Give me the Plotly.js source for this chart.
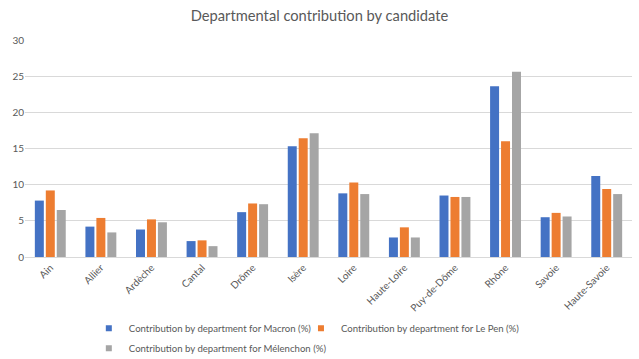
<!DOCTYPE html>
<html><head><meta charset="utf-8">
<script src="https://cdn.plot.ly/plotly-3.0.1.min.js"></script>
<style>html,body{margin:0;padding:0;background:#fff}</style>
</head><body><div id="chart" style="width:639px;height:359px"></div>
<script>
const departments = ["Ain","Allier","Ardèche","Cantal","Drôme","Isère","Loire","Haute-Loire","Puy-de-Dôme","Rhône","Savoie","Haute-Savoie"];
const macron    = [7.8, 4.2, 3.8, 2.2, 6.2, 15.3, 8.8, 2.7, 8.5, 23.6, 5.5, 11.2];
const lepen     = [9.2, 5.4, 5.2, 2.3, 7.4, 16.4, 10.3, 4.1, 8.3, 16.0, 6.1, 9.4];
const melenchon = [6.5, 3.4, 4.8, 1.5, 7.3, 17.1, 8.7, 2.7, 8.3, 25.6, 5.6, 8.7];
const seriesNames = ["Contribution by department for Macron (%)","Contribution by department for Le Pen (%)","Contribution by department for Mélenchon (%)"];
const colors = ["#4472C4","#ED7D31","#A5A5A5"];
const legendIds = ['legend','legend2','legend3'];
const vals = [macron, lepen, melenchon];
const data = vals.map((v,i)=>({type:'bar', x:departments, y:v, name:seriesNames[i], marker:{color:colors[i]}, hoverinfo:'skip', showlegend:false}));
// legend-only entries with small square symbols
seriesNames.forEach((n,i)=>data.push({type:'scatter', mode:'markers', x:[null], y:[null], name:n, legend:legendIds[i], marker:{symbol:'square', size:6, color:colors[i]}, showlegend:true, hoverinfo:'skip'}));
const legendStyle = {orientation:'h', xref:'container', yref:'container', xanchor:'left', yanchor:'top', font:{size:9.6,color:'#595959'}, itemwidth:30, bgcolor:'rgba(0,0,0,0)'};
const layout = {
  width:639, height:359,
  margin:{l:25, r:7, t:40, b:102},
  paper_bgcolor:'#fff', plot_bgcolor:'#fff',
  font:{family:'Lato, "Open Sans", sans-serif', color:'#595959', size:10},
  title:{text:'Departmental contribution by candidate', x:0.5, xanchor:'center', y:0.955, yanchor:'middle', font:{size:14.7, color:'#595959'}},
  barmode:'group', bargap:0.35, bargroupgap:0.18,
  xaxis:{tickangle:-45, showgrid:false, showline:true, linecolor:'#D9D9D9', ticks:'', automargin:false, tickfont:{size:10,color:'#595959'}},
  yaxis:{range:[0,30], dtick:5, gridcolor:'#D9D9D9', zeroline:false, ticks:'', automargin:false, tickfont:{size:10,color:'#595959'}},
  showlegend:true,
  legend: Object.assign({}, legendStyle, {x:0.139, y:0.126}),
  legend2: Object.assign({}, legendStyle, {x:0.471, y:0.126}),
  legend3: Object.assign({}, legendStyle, {x:0.139, y:0.070})
};
Plotly.newPlot('chart', data, layout, {displayModeBar:false, staticPlot:true});
</script></body></html>
